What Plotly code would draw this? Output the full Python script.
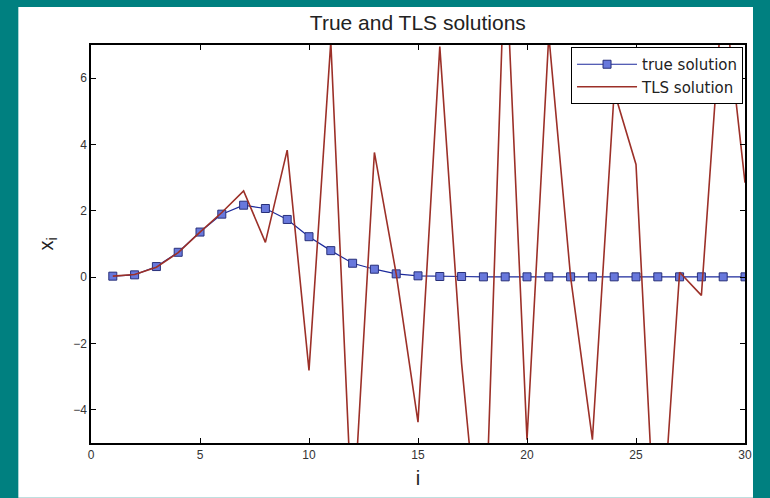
import plotly.graph_objects as go

idx = list(range(1, 31))
true_solution = [0.03, 0.07, 0.32, 0.75, 1.36, 1.90, 2.17, 2.07, 1.74, 1.22,
                 0.80, 0.42, 0.24, 0.10, 0.04, 0.02, 0.02, 0.01, 0.01, 0.01,
                 0.01, 0.01, 0.01, 0.01, 0.01, 0.01, 0.01, 0.01, 0.01, 0.01]
tls_solution = [0.03, 0.08, 0.30, 0.74, 1.36, 1.95, 2.60, 1.05, 3.83, -2.81,
                7.10, -7.60, 3.76, 0.10, -4.37, 6.95, -2.60, -9.50, 10.00, -4.90,
                7.30, 0.00, -4.90, 5.60, 3.40, -9.50, 0.15, -0.55, 8.80, 2.85]
x_ticks = [0, 5, 10, 15, 20, 25, 30]
y_ticks = [-4, -2, 0, 2, 4, 6]

W, H = 770, 498
L, R, T, B = 90.7, 745.0, 45.0, 443.3
pw, ph = R - L, B - T

def px(x):
    return (x - L) / pw

def py(y):
    return (B - y) / ph

fig = go.Figure()
fig.add_trace(go.Scatter(
    x=idx, y=true_solution, mode="lines+markers", name="true solution",
    line=dict(color="#1c2a9c", width=1.2),
    marker=dict(symbol="square", size=8, color="#6878dc",
                line=dict(color="#28307a", width=1)),
))
fig.add_trace(go.Scatter(
    x=idx, y=tls_solution, mode="lines", name="TLS solution",
    line=dict(color="#9c3028", width=1.6),
))

fig.add_shape(type="rect", xref="paper", yref="paper", layer="below",
              x0=px(18), x1=px(753), y0=py(H), y1=py(7),
              fillcolor="white", line=dict(width=0))

axis_common = dict(
    showgrid=False, zeroline=False, ticks="inside", ticklen=5,
    tickcolor="black", showline=True, linecolor="black", linewidth=1.5,
    mirror="ticks", tickfont=dict(family="Liberation Sans, Arial", size=12, color="#333"),
)
fig.update_xaxes(range=[0, 30], tickvals=x_ticks,
                 title=dict(text="i", standoff=10,
                            font=dict(family="Liberation Sans, Arial", size=20, color="#222")),
                 **axis_common)
fig.update_yaxes(range=[-5, 7], tickvals=y_ticks,
                 title=dict(text="x<sub>i</sub>", standoff=14,
                            font=dict(family="Liberation Sans, Arial", size=20, color="#222")),
                 **axis_common)

fig.update_layout(
    width=W, height=H,
    margin=dict(l=L, r=W - R, t=T, b=H - B, pad=0),
    paper_bgcolor="#008080", plot_bgcolor="white",
    title=dict(text="True and TLS solutions", x=(L + R) / 2 / W, xanchor="center",
               y=1 - 23 / H, yanchor="middle",
               font=dict(family="Liberation Sans, Arial", size=21, color="#222")),
    legend=dict(x=0.997, y=0.995, xanchor="right", yanchor="top",
                bgcolor="white", bordercolor="black", borderwidth=1,
                font=dict(family="DejaVu Sans", size=15, color="#222"),
                tracegroupgap=0, itemwidth=60),
    showlegend=True,
)

fig.write_html("out.html")
